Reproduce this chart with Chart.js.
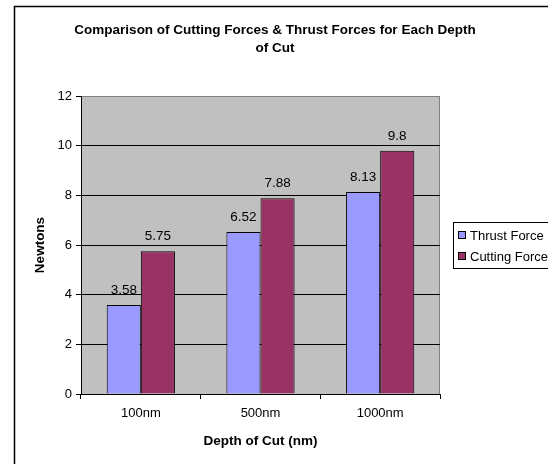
<!DOCTYPE html>
<html>
<head>
<meta charset="utf-8">
<script src="https://cdn.jsdelivr.net/npm/chart.js@4/dist/chart.umd.min.js"></script>
<style>
  html, body { margin: 0; padding: 0; background: #fff; }
  #wrap { width: 548px; height: 464px; position: relative; }
</style>
</head>
<body>
<div id="wrap"><canvas id="chart" width="548" height="464"></canvas></div>
<script>
// Chart data
const categories = ['100nm', '500nm', '1000nm'];
const thrustForce = [3.58, 6.52, 8.13];
const cuttingForce = [5.75, 7.88, 9.8];
const titleLines = ['Comparison of Cutting Forces & Thrust Forces for Each Depth', 'of Cut'];

const FONT = 'Arial, "Liberation Sans", sans-serif';

// Frame, plot background, title, value labels and boxed legend (Excel look)
const excelLook = {
    id: 'excelLook',
    beforeDraw(chart) {
        const ctx = chart.ctx;
        const a = chart.chartArea;
        ctx.save();
        ctx.fillStyle = '#fff';
        ctx.fillRect(0, 0, chart.width, chart.height);
        // outer border
        ctx.strokeStyle = '#000';
        ctx.lineWidth = 1.5;
        ctx.strokeRect(14.5, 6.5, chart.width + 20, chart.height + 20);
        // plot area
        ctx.fillStyle = '#c0c0c0';
        ctx.fillRect(a.left, a.top, a.right - a.left, a.bottom - a.top);
        ctx.strokeStyle = '#808080';
        ctx.lineWidth = 1;
        ctx.beginPath();
        ctx.moveTo(a.left, a.top + 0.5);
        ctx.lineTo(a.right - 0.5, a.top + 0.5);
        ctx.lineTo(a.right - 0.5, a.bottom);
        ctx.stroke();
        ctx.restore();
    },
    afterDraw(chart) {
        const ctx = chart.ctx;
        ctx.save();
        // title
        ctx.fillStyle = '#000';
        ctx.font = 'bold 13.5px ' + FONT;
        ctx.textAlign = 'center';
        ctx.textBaseline = 'middle';
        ctx.fillText(titleLines[0], 275, 30);
        ctx.fillText(titleLines[1], 275, 48);

        // value labels
        ctx.font = '13.5px ' + FONT;
        ctx.textBaseline = 'bottom';
        chart.data.datasets.forEach((ds, i) => {
            chart.getDatasetMeta(i).data.forEach((bar, j) => {
                ctx.fillText(String(ds.data[j]), bar.x, bar.y - 8);
            });
        });

        // legend
        ctx.strokeStyle = '#000';
        ctx.lineWidth = 1;
        ctx.strokeRect(453.5, 222.5, 120, 46);
        ctx.font = '13px ' + FONT;
        ctx.textAlign = 'left';
        ctx.textBaseline = 'middle';
        chart.data.datasets.forEach((ds, i) => {
            const y = 235 + i * 21;
            ctx.fillStyle = ds.backgroundColor;
            ctx.fillRect(458.5, y - 3.5, 7, 7);
            ctx.strokeRect(458.5, y - 3.5, 7, 7);
            ctx.fillStyle = '#000';
            ctx.fillText(ds.label, 470, y + 1);
        });
        ctx.restore();
    }
};

new Chart(document.getElementById('chart'), {
    type: 'bar',
    data: {
        labels: categories,
        datasets: [{
            label: 'Thrust Force',
            data: thrustForce,
            backgroundColor: '#9999ff',
            borderColor: '#000',
            borderWidth: 1,
            borderSkipped: 'bottom'
        }, {
            label: 'Cutting Force',
            data: cuttingForce,
            backgroundColor: '#993366',
            borderColor: '#000',
            borderWidth: 1,
            borderSkipped: 'bottom'
        }]
    },
    options: {
        responsive: false,
        animation: false,
        events: [],
        datasets: {
            bar: { categoryPercentage: 0.57, barPercentage: 1.0 }
        },
        layout: {
            padding: { left: 32, right: 108, top: 96, bottom: 15 }
        },
        plugins: {
            legend: { display: false },
            title: { display: false },
            tooltip: { enabled: false }
        },
        scales: {
            x: {
                grid: {
                    offset: true,
                    drawOnChartArea: false,
                    drawTicks: true,
                    tickLength: 5,
                    color: '#000'
                },
                border: { color: '#000', width: 1 },
                ticks: {
                    color: '#000',
                    font: { family: FONT, size: 13 },
                    padding: 7,
                    maxRotation: 0
                },
                title: {
                    display: true,
                    text: 'Depth of Cut (nm)',
                    color: '#000',
                    font: { family: FONT, size: 13.5, weight: 'bold' },
                    padding: 0
                },
                afterFit(scale) { scale.height = 55; }
            },
            y: {
                min: 0,
                max: 12,
                ticks: {
                    stepSize: 2,
                    color: '#000',
                    font: { family: FONT, size: 13 },
                    padding: 4
                },
                grid: {
                    color: ctx => (ctx.tick && ctx.tick.value === 12) ? '#808080' : '#000',
                    tickLength: 5,
                    tickColor: '#000'
                },
                border: { color: '#000', width: 1 },
                title: {
                    display: true,
                    text: 'Newtons',
                    color: '#000',
                    font: { family: FONT, size: 13.5, weight: 'bold' },
                    padding: 0
                },
                afterFit(scale) { scale.width = 49; }
            }
        }
    },
    plugins: [excelLook]
});
</script>
</body>
</html>
